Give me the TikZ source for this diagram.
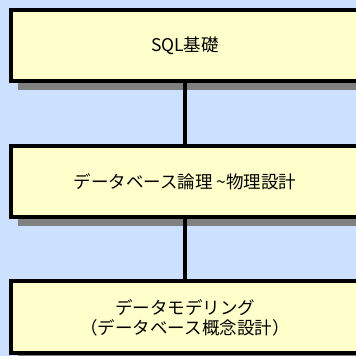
\documentclass[tikz,border=0pt]{standalone}
\usepackage{fontspec}
\newfontfamily\jp{Noto Sans CJK JP}
\usetikzlibrary{shadows}
\definecolor{bgblue}{HTML}{CCE0FF}
\definecolor{boxfill}{HTML}{FFFFCC}
\definecolor{shadowgray}{HTML}{808080}
\begin{document}
\begin{tikzpicture}[x=1pt,y=1pt,
  stagebox/.style={draw=black, line width=4pt, fill=boxfill,
    minimum width=348pt, minimum height=71pt, inner sep=0pt, outer sep=0pt,
    align=center, font=\jp\fontsize{17.5}{20}\selectfont,
    general shadow={fill=shadowgray, shadow xshift=7pt, shadow yshift=-9pt}},
  link/.style={draw=black, line width=3.5pt}]
\useasboundingbox (0,0) rectangle (356,356);
\clip (0,0) rectangle (356,356);
\fill[bgblue] (0,0) rectangle (356,356);
\node[stagebox] (sql) at (185,310.5) {SQL基礎};
\node[stagebox] (logic) at (185,174.5) {データベース論理 \textasciitilde 物理設計};
\node[stagebox, minimum height=72pt] (model) at (185,38.5) {データモデリング\\（データベース概念設計）};
\draw[link] (sql.south) -- (logic.north);
\draw[link] (logic.south) -- (model.north);
\end{tikzpicture}
\end{document}
